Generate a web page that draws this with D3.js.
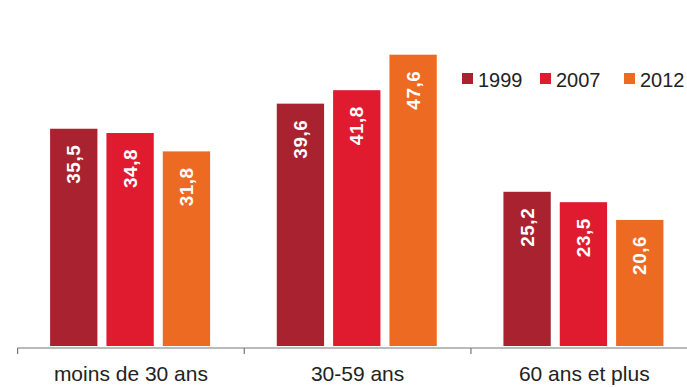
<!DOCTYPE html>
<html>
<head>
<meta charset="utf-8">
<script src="https://cdn.jsdelivr.net/npm/d3@7/dist/d3.min.js"></script>
<style>
  html, body { margin: 0; padding: 0; background: #fff; }
  svg { display: block; font-family: "Liberation Sans", Arial, sans-serif; }
</style>
</head>
<body>
<svg id="chart" width="687" height="387"></svg>
<script>
// Age groups and the share (%) for each survey year
const categories = ["moins de 30 ans", "30-59 ans", "60 ans et plus"];
const years = ["1999", "2007", "2012"];
const values1999 = [35.5, 39.6, 25.2];
const values2007 = [34.8, 41.8, 23.5];
const values2012 = [31.8, 47.6, 20.6];
const seriesValues = [values1999, values2007, values2012];
const yearColors = ["#a8232f", "#e01b30", "#ed6a23"];

const svg = d3.select("#chart");

const x0 = d3.scaleBand().domain(categories).range([17.6, 697.6]).padding(0);
const x1 = d3.scaleBand().domain(years).range([32.5, 192.5]).paddingInner(0.16).paddingOuter(0);
const y = d3.scaleLinear().domain([0, 50]).range([346, 40]);
const color = d3.scaleOrdinal().domain(years).range(yearColors);

const fmt = v => d3.format(".1f")(v).replace(".", ",");

// bars grouped by age category
const groups = svg.append("g").selectAll("g")
  .data(categories)
  .join("g")
  .attr("transform", d => `translate(${x0(d)},0)`);

const bars = groups.selectAll("g.bar")
  .data((c, i) => years.map((yr, j) => ({ year: yr, value: seriesValues[j][i] })))
  .join("g")
  .attr("class", "bar");

bars.append("rect")
  .attr("x", d => x1(d.year))
  .attr("y", d => y(d.value))
  .attr("width", x1.bandwidth())
  .attr("height", d => y(0) - y(d.value))
  .attr("fill", d => color(d.year));

// value labels, rotated, inside the top of each bar
bars.append("text")
  .attr("transform", d => `translate(${x1(d.year) + x1.bandwidth() / 2},${y(d.value) + 16}) rotate(-90)`)
  .attr("text-anchor", "end")
  .attr("dominant-baseline", "central")
  .attr("fill", "#fff")
  .attr("font-size", 19)
  .attr("font-weight", "bold")
  .attr("letter-spacing", 0.5)
  .text(d => fmt(d.value));

// category axis
const axis = svg.append("g").attr("transform", "translate(0,348)");
axis.append("line")
  .attr("x1", x0.range()[0]).attr("x2", 687)
  .attr("y1", 0).attr("y2", 0)
  .attr("stroke", "#777").attr("stroke-width", 1.2);
axis.selectAll("line.tick")
  .data(categories)
  .join("line")
  .attr("class", "tick")
  .attr("x1", d => x0(d)).attr("x2", d => x0(d))
  .attr("y1", 0).attr("y2", 6)
  .attr("stroke", "#777").attr("stroke-width", 1.2);
axis.selectAll("text")
  .data(categories)
  .join("text")
  .attr("x", d => x0(d) + x0.bandwidth() / 2)
  .attr("y", 33)
  .attr("text-anchor", "middle")
  .attr("font-size", 21)
  .attr("fill", "#222")
  .text(d => d);

// legend
const legendX = [462, 540, 624];
const legend = svg.append("g").selectAll("g")
  .data(years)
  .join("g")
  .attr("transform", (d, i) => `translate(${legendX[i]},73)`);
legend.append("rect")
  .attr("width", 11).attr("height", 11)
  .attr("fill", d => color(d));
legend.append("text")
  .attr("x", 16).attr("y", 14)
  .attr("font-size", 20)
  .attr("fill", "#222")
  .text(d => d);
</script>
</body>
</html>
